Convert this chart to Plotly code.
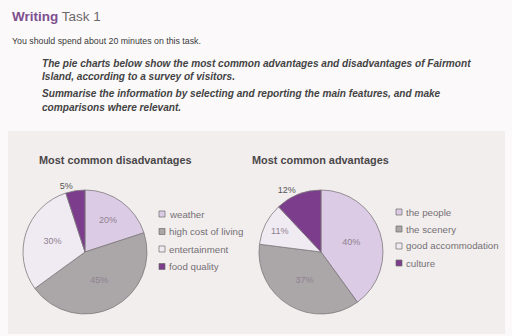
import plotly.graph_objects as go

# Survey results for Fairmont Island
dis_labels = ["weather", "high cost of living", "entertainment", "food quality"]
dis_values = [20, 45, 30, 5]
adv_labels = ["the people", "the scenery", "good accommodation", "culture"]
adv_values = [40, 37, 11, 12]

slice_colors = ["#dccbe4", "#aba6a8", "#f0eaf2", "#7b3d8c"]
# the two smallest-looking wedges carry their labels outside the pie
dis_textpos = ["inside", "inside", "inside", "outside"]
adv_textpos = ["inside", "inside", "inside", "outside"]

FONT = "Liberation Sans, Arial, sans-serif"
W, H = 512, 336


def label_colors(positions):
    return ["#555555" if p == "outside" else "#8e8290" for p in positions]


def add_pie(labels, values, positions, x0):
    fig.add_trace(go.Pie(
        labels=labels, values=values, sort=False, direction="clockwise",
        marker=dict(colors=slice_colors, line=dict(color="#7d7a7c", width=0.8)),
        texttemplate="%{value}%", textposition=positions,
        textfont=dict(family=FONT, size=9, color=label_colors(positions)),
        insidetextorientation="horizontal",
        domain=dict(x=[x0 / W, (x0 + 124) / W], y=[22 / H, 146 / H]),
        showlegend=False, hoverinfo="label+percent",
    ))


fig = go.Figure()
add_pie(dis_labels, dis_values, dis_textpos, 23)
add_pie(adv_labels, adv_values, adv_textpos, 259)

annotations = [
    dict(x=10, y=16, text="<span style='color:#7e4f8f'><b>Writing</b></span> <span style='color:#6d6a6c'>Task 1</span>",
         font=dict(family=FONT, size=13.5)),
    dict(x=10, y=41, text="You should spend about 20 minutes on this task.",
         font=dict(family=FONT, size=8.8, color="#3a3a3a")),
]
para = [
    (63, "The pie charts below show the most common advantages and disadvantages of Fairmont"),
    (77, "Island, according to a survey of visitors."),
    (93, "Summarise the information by selecting and reporting the main features, and make"),
    (107, "comparisons where relevant."),
]
for yy, line in para:
    annotations.append(dict(x=40, y=yy, text=f"<b><i>{line}</i></b>",
                            font=dict(family=FONT, size=10.1, color="#444444")))
annotations += [
    dict(x=37, y=160, text="<b>Most common disadvantages</b>",
         font=dict(family=FONT, size=10.9, color="#4a4749")),
    dict(x=250, y=160, text="<b>Most common advantages</b>",
         font=dict(family=FONT, size=10.9, color="#4a4749")),
]

shapes = [dict(type="rect", xref="paper", yref="paper", layer="below",
               x0=8 / W, x1=505 / W, y0=2 / H, y1=1 - 131 / H,
               fillcolor="#f2eeee", line=dict(width=0))]

# Key beside each pie: small bordered swatch followed by the category name
def add_key(labels, sx, y0, step):
    for i, lab in enumerate(labels):
        yc = y0 + i * step
        shapes.append(dict(type="rect", xref="paper", yref="paper",
                           x0=sx / W, x1=(sx + 6) / W,
                           y0=1 - (yc + 3) / H, y1=1 - (yc - 3) / H,
                           fillcolor=slice_colors[i], line=dict(color="#6e6a6c", width=0.7)))
        annotations.append(dict(x=sx + 8, y=yc, text=lab,
                                font=dict(family=FONT, size=9.7, color="#747074")))


add_key(dis_labels, 159, 214, 17.5)
add_key(adv_labels, 396, 212, 17)

for a in annotations:
    a.update(xref="paper", yref="paper", xanchor="left", yanchor="middle", showarrow=False)
    a["x"] = a["x"] / W
    a["y"] = 1 - a["y"] / H

fig.update_layout(
    width=W, height=H,
    margin=dict(l=0, r=0, t=0, b=0),
    paper_bgcolor="#fbf9fa",
    font=dict(family=FONT),
    annotations=annotations,
    shapes=shapes,
)

fig.write_html("out.html")
